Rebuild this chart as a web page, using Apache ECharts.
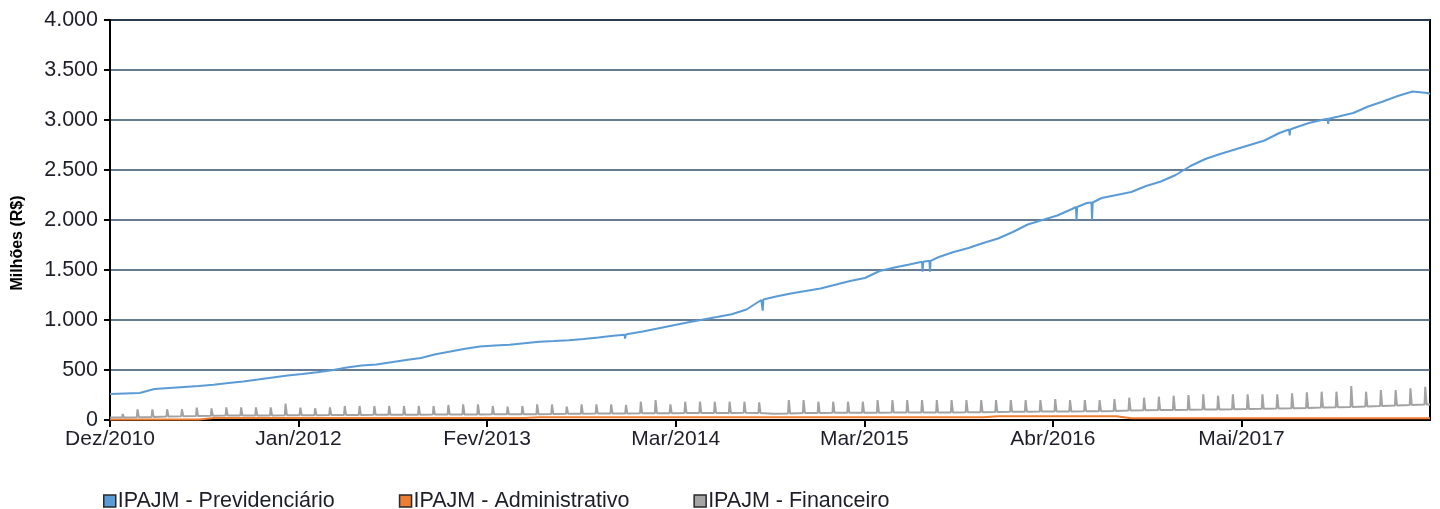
<!DOCTYPE html>
<html><head><meta charset="utf-8">
<script src="https://cdn.jsdelivr.net/npm/echarts@6/dist/echarts.min.js"></script>
<style>html,body{margin:0;padding:0;background:#fff}#c{width:1440px;height:509px}</style>
</head><body><div id="c"></div>
<script>
// x unit = months since Dez/2010; tick labels every ~12.74 months
const xTickLabels = ['Dez/2010','Jan/2012','Fev/2013','Mar/2014','Mar/2015','Abr/2016','Mai/2017'];
const monthsPerTick = 12.74;
const seriesNames = ['IPAJM - Previdenciário','IPAJM - Administrativo','IPAJM - Financeiro'];
const yTitle = 'Milhões (R$)';

// IPAJM - Previdenciário, monthly (month 0..89), plus final value
const previdenciario = [
  260,265,270,310,320,330,340,352,370,386,
  405,425,445,460,478,497,525,545,555,578,
  600,620,658,685,712,735,745,752,768,783,
  790,798,810,825,843,860,885,915,945,975,
  1003,1030,1058,1105,1200,1235,1265,1290,1315,1352,
  1390,1420,1490,1525,1555,1585,1630,1680,1720,1770,
  1815,1880,1955,2000,2045,2110,2170,2220,2250,2280,
  2340,2385,2450,2540,2610,2660,2705,2750,2795,2870,
  2920,2970,3005,3035,3070,3135,3185,3240,3285,3270
];
const previdenciarioEnd = 3260;
// short drops: [month, level, bottom]
const previdenciarioDips = [
  [34.8, 852, 815], [44.1, 1205, 1093], [54.9, 1582, 1483], [55.4, 1592, 1483],
  [65.3, 2130, 2000], [66.35, 2175, 2000], [79.7, 2905, 2845], [82.3, 3012, 2960]
];

// IPAJM - Administrativo, monthly (month 0..89)
const administrativo = [
  5,5,5,5,5,5,5,
  20,20,20,20,20,20,20,20,20,20,20,20,20,20,20,20,20,20,20,20,20,20,
  28,28,28,28,28,28,28,28,28,28,28,28,28,28,28,28,28,28,28,28,28,28,28,28,28,28,28,28,28,28,28,
  38,38,38,38,38,38,38,38,38,
  18,18,18,18,18,18,18,18,18,18,18,18,18,18,18,18,18,18,18,18,18
];

// IPAJM - Financeiro: monthly baseline and month-end peak (89 months)
const financeiroBase = [
  25,28,30,35,38,40,42,45,45,45,
  45,48,48,48,50,50,50,52,52,52,
  52,55,55,55,55,57,57,57,58,60,
  62,62,65,65,65,68,68,68,70,70,
  70,70,72,70,62,65,70,70,72,72,
  72,72,75,75,75,75,75,78,78,80,
  82,82,84,85,86,88,88,90,95,98,
  100,100,102,105,105,108,110,112,115,118,
  120,125,128,130,135,140,145,150,155
];
const financeiroPeak = [
  60,107,107,107,107,123,117,127,127,127,
  127,165,123,117,127,140,140,140,140,140,
  140,140,150,157,157,140,133,140,157,155,
  133,157,157,157,150,183,200,157,183,183,
  183,183,183,177,62,200,200,183,183,183,
  183,200,200,200,200,200,200,200,200,200,
  200,200,200,210,200,200,200,210,223,223,
  233,243,250,257,243,257,257,257,257,267,
  277,283,283,340,283,300,300,317,333
];
const peakOffset = 0.81;

const xMax = 7 * monthsPerTick;
const xTickValues = xTickLabels.map((_, i) => i * monthsPerTick);

// build series data
const prevData = previdenciario.map((v, i) => [i, v]);
previdenciarioDips.forEach(d => {
  prevData.push([d[0] - 0.04, d[1]], [d[0], d[2]], [d[0] + 0.04, d[1]]);
});
prevData.push([xMax, previdenciarioEnd]);
prevData.sort((a, b) => a[0] - b[0]);

const admData = administrativo.map((v, i) => [i, v]);
admData.push([xMax, administrativo[administrativo.length - 1]]);

const finData = [[0, financeiroBase[0]]];
financeiroBase.forEach((b, k) => {
  const p = k + peakOffset;
  finData.push([p, b], [p + 0.05, financeiroPeak[k]], [p + 0.14, b]);
});
finData.push([xMax, financeiroBase[financeiroBase.length - 1]]);

const fmtY = v => v >= 1000 ? Math.floor(v / 1000) + '.' + String(v % 1000).padStart(3, '0') : String(v);
const txt = '#1e1e2a';
const font = 'Liberation Sans, Arial, sans-serif';

const chart = echarts.init(document.getElementById('c'), null, {renderer: 'canvas'});
chart.setOption({
  animation: false,
  backgroundColor: '#fff',
  grid: {left: 110, right: 10, top: 20, bottom: 89, show: true, borderColor: '#000', borderWidth: 2,
         backgroundColor: 'transparent', containLabel: false, outerBoundsMode: 'none'},
  graphic: [{
    type: 'text', x: 18, y: 243, rotation: Math.PI / 2,
    style: {text: yTitle, font: 'bold 16px "Liberation Sans", Arial, sans-serif', fill: '#000',
            align: 'center', verticalAlign: 'middle'}
  }],
  legend: {
    left: 98, top: 485, icon: 'rect', itemWidth: 12, itemHeight: 12, itemGap: 64,
    itemStyle: {borderColor: '#2a2a2a', borderWidth: 1.5},
    textStyle: {fontSize: 21.5, color: txt, fontFamily: font, padding: [0, 0, 0, -3]},
    data: seriesNames
  },
  xAxis: {
    type: 'value', min: 0, max: xMax, interval: monthsPerTick,
    axisLine: {show: true, lineStyle: {color: '#000', width: 2}},
    axisTick: {show: true, length: 7, lineStyle: {color: '#000', width: 2}, customValues: xTickValues},
    axisLabel: {
      fontSize: 21, color: txt, fontFamily: font, margin: 9, customValues: xTickValues,
      formatter: v => xTickLabels[Math.round(v / monthsPerTick)] || ''
    },
    splitLine: {show: false}
  },
  yAxis: {
    type: 'value', min: 0, max: 4000, interval: 500,
    axisLine: {show: true, lineStyle: {color: '#000', width: 2}},
    axisTick: {show: true, length: 6, lineStyle: {color: '#000', width: 2}},
    axisLabel: {fontSize: 21.5, color: txt, fontFamily: font, margin: 12, formatter: fmtY},
    splitLine: {show: true, lineStyle: {color: '#34506e', width: 1.6}}
  },
  series: [
    {name: seriesNames[0], type: 'line', data: prevData, showSymbol: false, color: '#5b9bd5',
     lineStyle: {width: 2, color: '#5b9bd5'}, z: 4},
    {name: seriesNames[1], type: 'line', data: admData, showSymbol: false, color: '#ed7d31',
     lineStyle: {width: 2, color: '#ed7d31'}, z: 2},
    {name: seriesNames[2], type: 'line', data: finData, showSymbol: false, color: '#a5a5a5',
     lineStyle: {width: 2, color: '#a3a3a3'}, z: 3}
  ]
});
</script>
</body></html>
